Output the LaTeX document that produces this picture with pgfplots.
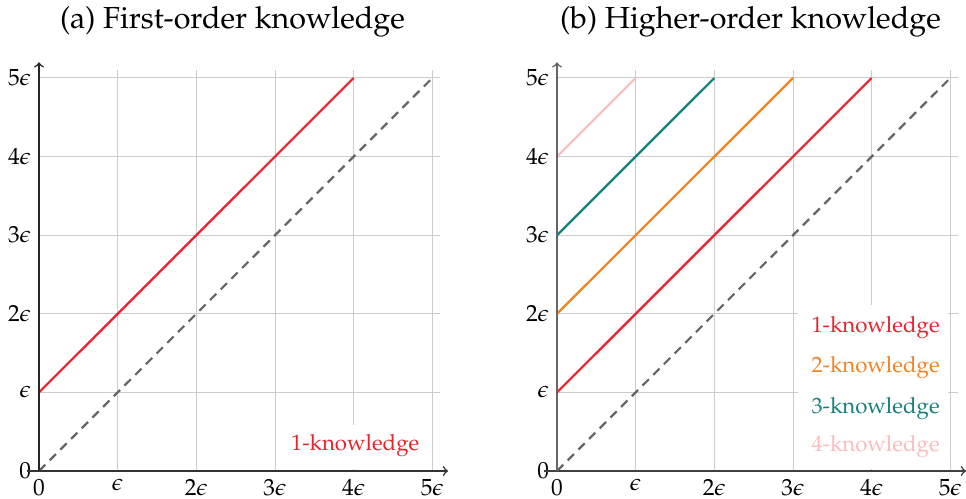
\documentclass[border=0pt]{standalone}
\usepackage[T1]{fontenc}
\usepackage{mathpazo}
\usepackage{pgfplots}
\pgfplotsset{compat=1.18}
\definecolor{kred}{HTML}{E8232B}
\definecolor{korange}{HTML}{F5821F}
\definecolor{kteal}{HTML}{17807A}
\definecolor{kpink}{HTML}{F8BDBD}
\definecolor{kdash}{HTML}{666666}
\definecolor{kgrid}{HTML}{CCCCCC}
\begin{document}
\begin{tikzpicture}
\path[use as bounding box] (0,0) rectangle (434.7pt,224.55pt);
\pgfplotsset{
  myax/.style={
    x=35.4pt, y=35.37pt, xmin=0, xmax=5.1, ymin=0, ymax=5.1,
    anchor=south west, clip=false,
    axis line style={draw=none},
    tick style={draw=none},
    grid=major, grid style={draw=kgrid, line width=0.45pt},
    xtick={0,1,2,3,4,5}, ytick={0,1,2,3,4,5},
    xticklabels={$0$,$\epsilon$,$2\epsilon$,$3\epsilon$,$4\epsilon$,$5\epsilon$},
    yticklabels={$0$,$\epsilon$,$2\epsilon$,$3\epsilon$,$4\epsilon$,$5\epsilon$},
    tick label style={font=\fontsize{10.5}{12}\selectfont},
    xticklabel style={yshift=-0.3pt},
  }
}
% (a)
\begin{axis}[myax, at={(17.55pt,12.6pt)}]
\addplot[kdash, line width=1pt, dash pattern=on 4pt off 2.8pt] coordinates {(0,0) (5,5)};
\addplot[kred, line width=1pt] coordinates {(0,1) (4,5)};
\fill[white] (axis cs:3.1,0.02) rectangle (axis cs:4.97,0.585);
\node[text=kred, font=\fontsize{10}{12}\selectfont] at (axis cs:4.02,0.32) {1-knowledge};
\draw[black!80, line width=0.7pt, ->] (axis cs:-0.15,0) -- (axis cs:5.2,0);
\draw[black!85, line width=0.7pt, ->] (axis cs:0,0) -- (axis cs:0,5.2);
\node[font=\fontsize{13.7}{16}\selectfont] at (axis cs:2.46,5.71) {(a) First-order knowledge};
\end{axis}
% (b)
\begin{axis}[myax, at={(250.65pt,12.6pt)}]
\addplot[kdash, line width=1pt, dash pattern=on 4pt off 2.8pt] coordinates {(0,0) (5,5)};
\addplot[kred, line width=1pt] coordinates {(0,1) (4,5)};
\addplot[korange, line width=1pt] coordinates {(0,2) (3,5)};
\addplot[kteal, line width=1pt] coordinates {(0,3) (2,5)};
\addplot[kpink, line width=1pt] coordinates {(0,4) (1,5)};
\fill[white] (axis cs:3.06,0.02) rectangle (axis cs:4.97,2.11);
\node[text=kred, font=\fontsize{10}{12}\selectfont] at (axis cs:4.05,1.82) {1-knowledge};
\node[text=korange, font=\fontsize{10}{12}\selectfont] at (axis cs:4.05,1.31) {2-knowledge};
\node[text=kteal, font=\fontsize{10}{12}\selectfont] at (axis cs:4.05,0.80) {3-knowledge};
\node[text=kpink, font=\fontsize{10}{12}\selectfont] at (axis cs:4.05,0.305) {4-knowledge};
\draw[black!75, line width=0.7pt, ->] (axis cs:-0.17,0) -- (axis cs:5.2,0);
\draw[black!60, line width=0.7pt, ->] (axis cs:0,0) -- (axis cs:0,5.2);
\node[font=\fontsize{13.7}{16}\selectfont] at (axis cs:2.46,5.71) {(b) Higher-order knowledge};
\end{axis}
\end{tikzpicture}
\end{document}
